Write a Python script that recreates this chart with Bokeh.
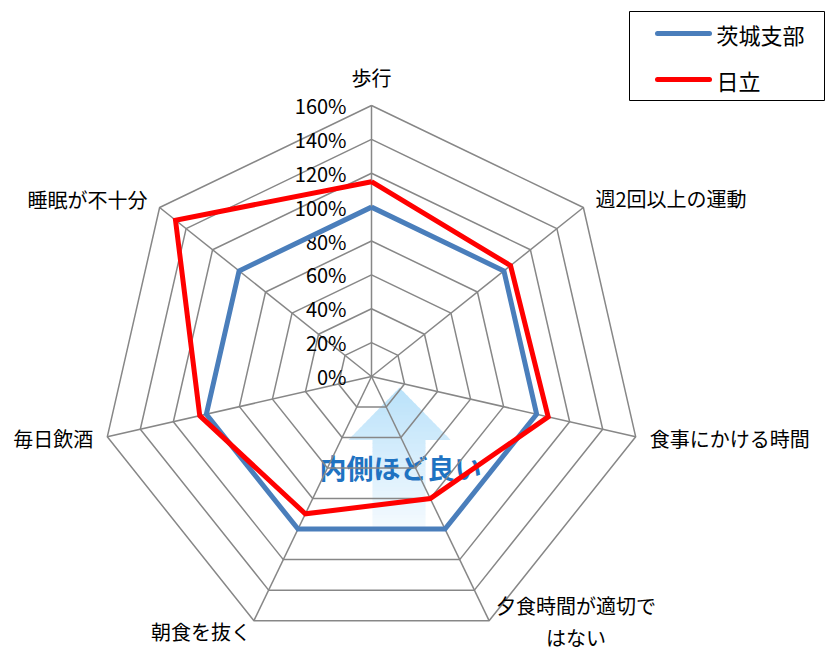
import numpy as np
from bokeh.plotting import figure
from bokeh.models import Range1d
from bokeh.core.properties import value
from bokeh.embed import file_html
from bokeh.resources import INLINE

# ---------------- data ----------------
categories = ["歩行", "週2回以上の運動", "食事にかける時間", "夕食時間が適切ではない",
              "朝食を抜く", "毎日飲酒", "睡眠が不十分"]
category_labels = ["歩行", "週2回以上の運動", "食事にかける時間", "夕食時間が適切で\nはない",
                   "朝食を抜く", "毎日飲酒", "睡眠が不十分"]
series_names = ["茨城支部", "日立"]
ibaraki = [100, 100, 100, 100, 100, 100, 100]
hitachi = [115, 105, 107, 80, 90, 104, 148]
tick_values = [0, 20, 40, 60, 80, 100, 120, 140, 160]
tick_labels = ["0%", "20%", "40%", "60%", "80%", "100%", "120%", "140%", "160%"]
arrow_text = "内側ほど良い"

# ---------------- geometry / style ----------------
FONT = "Noto Sans CJK JP"
S = 271.0 / 160.0          # px per percent
CX, CY = 371.0, 376.0      # page position of the radar centre
W, H = 825, 651
OX, OY = 0, 0              # page offset of the figure


def P(xp, yp):
    """page pixel -> data coords"""
    return (xp - CX) / S, (CY - yp) / S


n = len(categories)
ang = np.arange(n) * 2 * np.pi / n
sx, sy = np.sin(ang), np.cos(ang)
rmax = tick_values[-1]

p = figure(width=W, height=H, output_backend="svg", toolbar_location=None,
           x_range=Range1d((OX - CX) / S, (OX + W - CX) / S),
           y_range=Range1d((CY - OY - H) / S, (CY - OY) / S),
           x_axis_type=None, y_axis_type=None, min_border=0)
p.outline_line_color = None
p.grid.visible = False
p.background_fill_color = "white"
p.border_fill_color = "white"

# ---------------- gradient arrow ----------------
tip_y, base_y, bot_y = 387.0, 439.0, 530.0
ax_c, head_hw, shaft_l, shaft_r = 399.0, 51.0, 372.0, 425.0
top_rgb = np.array([186, 226, 250])
bot_rgb = np.array([246, 251, 255])


def arrow_span(y):
    if y <= base_y:
        hw = (y - tip_y) / (base_y - tip_y) * head_hw
        return ax_c - hw, ax_c + hw
    return shaft_l, shaft_r


bands = list(np.linspace(tip_y, base_y, 14)) + list(np.linspace(base_y, bot_y, 24))[1:]
xs_b, ys_b, cols = [], [], []
for y0, y1 in zip(bands[:-1], bands[1:]):
    if y1 <= base_y:
        l0, r0 = arrow_span(y0)
        l1, r1 = arrow_span(y1)
    else:
        l0, r0 = shaft_l, shaft_r
        l1, r1 = shaft_l, shaft_r
    pts = [P(l0, y0), P(r0, y0), P(r1, y1 + 0.6), P(l1, y1 + 0.6)]
    xs_b.append([q[0] for q in pts])
    ys_b.append([q[1] for q in pts])
    t = ((y0 + y1) / 2 - tip_y) / (bot_y - tip_y)
    c = (top_rgb + (bot_rgb - top_rgb) * t).astype(int)
    cols.append("#%02x%02x%02x" % tuple(c))
p.patches(xs_b, ys_b, fill_color=cols, line_color=None)

tx, ty = P(319, 467)
p.text([tx], [ty], text=[arrow_text], text_font=value(FONT), text_font_size="27px",
       text_font_style="bold", text_color="#1F73C2", text_align="left",
       text_baseline="middle")

# ---------------- grid ----------------
grid_col = "#878787"
ring_x, ring_y = [], []
for v in tick_values[1:]:
    ring_x.append(list(v * sx) + [v * sx[0]])
    ring_y.append(list(v * sy) + [v * sy[0]])
p.multi_line(ring_x, ring_y, line_color=grid_col, line_width=1.5)
p.multi_line([[0, rmax * a] for a in sx], [[0, rmax * b] for b in sy],
             line_color=grid_col, line_width=1.5)

# tick labels
lx, _ = P(346, 0)
p.text([lx] * len(tick_values), tick_values, text=tick_labels, text_font=value(FONT),
       text_font_size="20px", text_color="#000000", text_align="right",
       text_baseline="middle")

# ---------------- series ----------------
colors = ["#4A7EBB", "#FF0000"]
for vals, col in zip([ibaraki, hitachi], colors):
    v = np.array(vals, dtype=float)
    xs = list(v * sx) + [v[0] * sx[0]]
    ys = list(v * sy) + [v[0] * sy[0]]
    p.line(xs, ys, line_color=col, line_width=5, line_join="miter")

# ---------------- category labels ----------------
label_style = [  # (dx px, dy px, align, line height)
    (0, -28, "center", 1.2),
    (12, -9, "left", 1.2),
    (14, 2, "left", 1.2),
    (87, 1, "center", 1.12),
    (-3, 11, "right", 1.2),
    (-14, 2, "right", 1.2),
    (-12, -8, "right", 1.2),
]
for k, lab in enumerate(category_labels):
    dx, dy, al, lh = label_style[k]
    x0 = rmax * sx[k] + dx / S
    y0 = rmax * sy[k] - dy / S
    p.text([x0], [y0], text=[lab], text_font=value(FONT), text_font_size="20px",
           text_color="#000000", text_align=al, text_baseline="middle",
           text_line_height=lh)

# ---------------- legend ----------------
l, t = P(629, 11)
r, b = P(824, 100)
p.quad(left=[l], right=[r], top=[t], bottom=[b], fill_color="white",
       line_color="#000000", line_width=1)
for i, (name, col) in enumerate(zip(series_names, colors)):
    yy = 33 + i * 46
    x1, y1 = P(657, yy)
    x2, _ = P(709, yy)
    p.line([x1, x2], [y1, y1], line_color=col, line_width=5, line_cap="round")
    xt, yt = P(716, yy)
    p.text([xt], [yt], text=[name], text_font=value(FONT), text_font_size="22px",
           text_color="#000000", text_align="left", text_baseline="middle")

open("out.html", "w").write(file_html(p, INLINE))
